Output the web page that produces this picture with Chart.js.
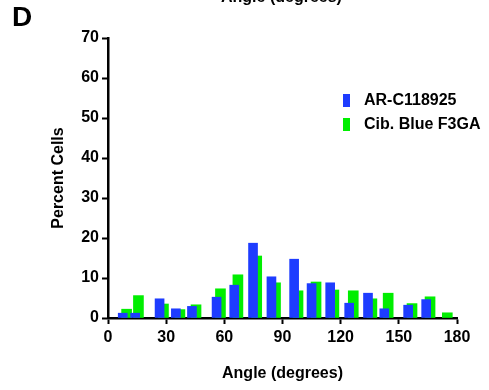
<!DOCTYPE html>
<html>
<head>
<meta charset="utf-8">
<script src="https://cdn.jsdelivr.net/npm/chart.js@4/dist/chart.umd.min.js"></script>
<style>
  body { margin: 0; background: #fff; }
  #wrap { position: relative; width: 489px; height: 390px; overflow: hidden; font-family: Arial, "Liberation Sans", sans-serif; font-weight: bold; color: #000; }
  canvas { position: absolute; left: 0; top: 0; }
  .lbl { position: absolute; white-space: nowrap; }
  .sw { position: absolute; width: 7px; height: 13px; }
</style>
</head>
<body>
<div id="wrap">
  <canvas id="chart" width="489" height="390"></canvas>
  <div class="lbl" style="left:221px; top:-12px; font-size:16px;">Angle (degrees)</div>
  <div class="lbl" style="left:12px; top:1px; font-size:28px;">D</div>
  <div class="sw" style="left:343px; top:94px; background:#1e3cff;"></div>
  <div class="lbl" style="left:364px; top:91px; font-size:16px;">AR-C118925</div>
  <div class="sw" style="left:343px; top:118px; background:#00ee00;"></div>
  <div class="lbl" style="left:364px; top:115px; font-size:16px;">Cib. Blue F3GA</div>
</div>
<script>
// --- dados ---
const seriesNames = ['AR-C118925', 'Cib. Blue F3GA'];
const blueAngles = [7.6, 14.0, 26.6, 35.0, 43.3, 56.0, 65.1, 74.8, 84.3, 96.0, 105.0, 114.6, 124.4, 134.1, 142.5, 154.8, 164.1];
const blueValues = [1.2, 1.2, 4.8, 2.3, 2.9, 5.2, 8.2, 18.7, 10.3, 14.7, 8.6, 8.8, 3.7, 6.2, 2.3, 3.2, 4.6];
const greenAngles = [9.6, 15.7, 28.6, 37.1, 45.4, 58.0, 67.0, 76.7, 86.4, 98.0, 107.3, 116.5, 126.5, 136.1, 144.5, 156.8, 166.1, 175.0];
const greenValues = [2.2, 5.6, 3.5, 2.1, 3.3, 7.3, 10.8, 15.5, 8.8, 6.8, 9.0, 7.0, 6.8, 4.8, 6.2, 3.6, 5.3, 1.3];
const xTicks = [0, 30, 60, 90, 120, 150, 180];
const yTicks = [0, 10, 20, 30, 40, 50, 60, 70];

const toPoints = (xs, ys) => xs.map((x, i) => ({ x: x, y: ys[i] }));
const font = (size) => ({ family: 'Arial, "Liberation Sans", sans-serif', size: size, weight: 'bold' });

new Chart(document.getElementById('chart'), {
    type: 'bar',
    data: {
        datasets: [
            { label: seriesNames[0], data: toPoints(blueAngles, blueValues), backgroundColor: '#1e3cff', barThickness: 9, borderWidth: 0 },
            { label: seriesNames[1], data: toPoints(greenAngles, greenValues), backgroundColor: '#00ee00', barThickness: 10, borderWidth: 0 }
        ]
    },
    options: {
        responsive: false,
        animation: false,
        grouped: false,
        layout: { padding: { left: 0, top: 38, right: 32, bottom: 0 } },
        plugins: { legend: { display: false }, tooltip: { enabled: false } },
        scales: {
            x: {
                type: 'linear', min: 0, max: 180, offset: false,
                afterBuildTicks: (s) => { s.ticks = xTicks.map(v => ({ value: v })); },
                afterFit: (s) => { s.height = 72; },
                grid: { display: true, offset: false, drawOnChartArea: false, drawTicks: true, tickLength: 6, tickColor: '#000', tickWidth: 2 },
                border: { display: true, color: '#000', width: 2.5 },
                ticks: { color: '#000', font: font(16), padding: 4, maxRotation: 0 },
                title: { display: true, text: 'Angle (degrees)', color: '#000', font: font(16), padding: { top: 0, bottom: 7 } }
            },
            y: {
                min: 0, max: 70,
                afterBuildTicks: (s) => { s.ticks = yTicks.map(v => ({ value: v })); },
                afterFit: (s) => { s.width = 108; },
                grid: { display: true, drawOnChartArea: false, drawTicks: true, tickLength: 6, tickColor: '#000', tickWidth: 2 },
                border: { display: true, color: '#000', width: 2.5 },
                ticks: { color: '#000', font: font(16), padding: 3 },
                title: { display: true, text: 'Percent Cells', color: '#000', font: font(16), padding: { top: 49, bottom: 0 } }
            }
        }
    }
});
</script>
</body>
</html>
